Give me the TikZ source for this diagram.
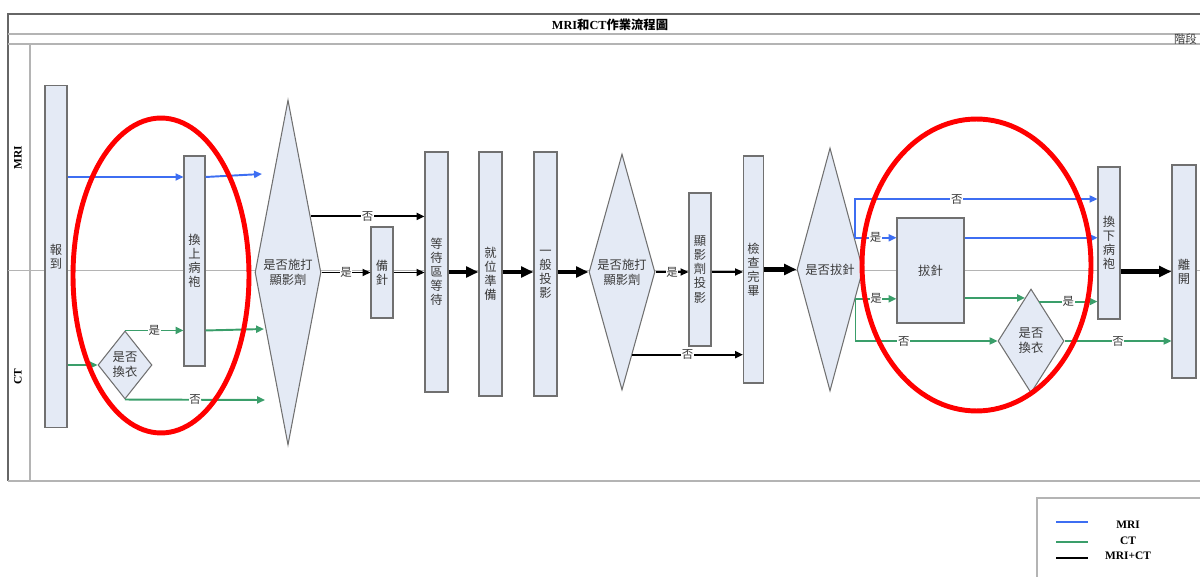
\documentclass[tikz,border=0pt]{standalone}
\usepackage{fontspec}
\setmainfont{Liberation Serif}
\newfontfamily\cjk{Noto Sans CJK TC}
\usetikzlibrary{shapes.geometric,arrows.meta}

\definecolor{mriblue}{HTML}{3D6EF2}
\definecolor{ctgreen}{HTML}{3A9E6A}
\definecolor{boxfill}{HTML}{E4EAF5}
\definecolor{boxline}{HTML}{707070}
\definecolor{textgray}{HTML}{3A3A3A}
\definecolor{lanegray}{HTML}{B4B4B4}
\definecolor{framegray}{HTML}{666666}

\begin{document}
\begin{tikzpicture}[x=0.02cm,y=-0.02cm,
    box/.style 2 args={draw=boxline, fill=boxfill, line width=0.6pt, inner sep=0pt,
      minimum width=#1, minimum height=#2, text=textgray, align=center,
      font=\cjk\fontsize{7}{8}\selectfont},
    ask/.style 2 args={diamond, draw=boxline, fill=boxfill, line width=0.6pt, inner sep=0pt,
      minimum width=#1, minimum height=#2},
    qtext/.style={text=textgray, align=center, inner sep=0pt, font=\cjk\fontsize{7}{8.5}\selectfont},
    lbl/.style={fill=white, inner sep=0.4pt, text=textgray, font=\cjk\fontsize{6.5}{7}\selectfont},
    mri/.style={draw=mriblue, line width=1.1pt, -{Triangle[length=4.5pt,width=4pt]}},
    ct/.style={draw=ctgreen, line width=1.1pt, -{Triangle[length=4.5pt,width=4pt]}},
    flow/.style={draw=black, line width=1.1pt, -{Triangle[length=4.5pt,width=4pt]}},
    mainflow/.style={draw=black, line width=2.6pt, -{Triangle[length=7pt,width=6pt]}}]
  \useasboundingbox (0,0) rectangle (1200,577);
  \clip (0,0) rectangle (1200,577);

  % pool frame and lanes
  \draw[framegray, line width=0.7pt] (1210,14) -- (8,14) -- (8,481);
  \draw[lanegray, line width=1.2pt] (8,34) -- (1210,34) (8,44) -- (1210,44);
  \draw[lanegray, line width=0.8pt] (8,481) -- (1210,481);
  \draw[lanegray, line width=1pt] (30,44) -- (30,481);
  \draw[lanegray, line width=0.5pt] (8,270) -- (1210,270);

  \node[font=\bfseries\fontsize{7}{8}\selectfont] (title) at (610,25) {MRI{\cjk 和}CT{\cjk 作業流程圖}};
  \node[anchor=east, inner sep=1pt, text=textgray, font=\cjk\fontsize{6.5}{7}\selectfont] (stage) at (1199,39.5) {階段};
  \node[rotate=90, font=\bfseries\fontsize{6.5}{7}\selectfont] (laneMRI) at (18,158) {MRI};
  \node[rotate=90, font=\bfseries\fontsize{6.5}{7}\selectfont] (laneCT) at (18,377) {CT};

  % steps
  \node[box={0.44cm}{6.86cm}] (rep) at (56,256.5) {報\\到};
  \node[box={0.42cm}{4.2cm}] (gown) at (194.5,261) {換\\上\\病\\袍};
  \node[ask={1.08cm}{1.36cm}, label={[qtext]center:{是否\\換衣}}] (chg1) at (125,365) {};
  \node[ask={1.32cm}{6.9cm}, label={[qtext]center:{是否施打\\顯影劑}}] (dye1) at (288,272.5) {};
  \node[box={0.44cm}{1.82cm}] (needle) at (382,272.5) {備\\針};
  \node[box={0.46cm}{4.8cm}] (wait) at (436.5,272) {等\\待\\區\\等\\待};
  \node[box={0.46cm}{4.88cm}] (ready) at (490.5,274) {就\\位\\準\\備};
  \node[box={0.46cm}{4.88cm}] (plain) at (545.5,274) {一\\般\\投\\影};
  \node[ask={1.32cm}{4.72cm}, label={[qtext]center:{是否施打\\顯影劑}}] (dye2) at (622,272) {};
  \node[box={0.44cm}{3.06cm}] (cscan) at (700,269.5) {顯\\影\\劑\\投\\影};
  \node[box={0.40cm}{4.54cm}] (done) at (753.5,269.5) {檢\\查\\完\\畢};
  \node[ask={1.32cm}{4.86cm}, label={[qtext]center:{是否拔針}}] (pullq) at (830,269.5) {};
  \node[box={1.34cm}{2.1cm}] (pull) at (930.5,270.5) {拔針};
  \node[ask={1.32cm}{2.08cm}, label={[qtext]center:{是否\\換衣}}] (chg2) at (1031,341) {};
  \node[box={0.44cm}{3.04cm}] (ungown) at (1109,243) {換\\下\\病\\袍};
  \node[box={0.48cm}{4.26cm}] (leave) at (1184,271.5) {離\\開};

  \coordinate (mriRow) at (0,177);
  \coordinate (mriEnd) at (262,174);
  \coordinate (ctYes) at (264,329);
  \coordinate (ctNo) at (265,400);
  \coordinate (mriSkip) at (0,199);

  % MRI
  \draw[mri] (rep.east |- mriRow) -- (gown.west |- mriRow);
  \draw[mri] (gown.east |- mriRow) -- (mriEnd);
  \draw[mri] (pullq.52) -- (pull.west |- pullq.52) node[lbl, midway] {是};
  \draw[mri] (pullq.52) |- (ungown.west |- mriSkip) node[lbl, pos=0.71] {否};
  \draw[mri] (pull.east |- pullq.52) -- (ungown.west |- pullq.52);

  % CT
  \draw[ct] (rep.east |- chg1.west) -- (chg1.west);
  \draw[ct] (chg1.north) -- (gown.west |- chg1.north) node[lbl, midway] {是};
  \draw[ct] (gown.east |- chg1.north) -- (ctYes);
  \draw[ct] (chg1.south) -- (ctNo) node[lbl, midway] {否};
  \draw[ct] (pullq.-49) -- (pull.west |- pullq.-49) node[lbl, midway] {是};
  \draw[ct] (pullq.-49) |- (chg2.west) node[lbl, pos=0.67] {否};
  \draw[ct] (pull.east |- chg2.98) -- (chg2.98);
  \draw[ct] (chg2.78) -- (ungown.west |- chg2.78) node[lbl, midway] {是};
  \draw[ct] (chg2.east) -- (leave.west |- chg2.east) node[lbl, midway] {否};

  % MRI+CT
  \draw[flow] (dye1.68) -- (wait.west |- dye1.68) node[lbl, midway] {否};
  \draw[flow] (dye1.east) -- (needle.west) node[lbl, midway] {是};
  \draw[flow] (needle.east) -- (wait.west |- needle.east);
  \draw[mainflow] (wait.east |- dye2.west) -- (ready.west |- dye2.west);
  \draw[mainflow] (ready.east |- dye2.west) -- (plain.west |- dye2.west);
  \draw[mainflow] (plain.east |- dye2.west) -- (dye2.west);
  \draw[flow] (dye2.east) -- (cscan.west |- dye2.east) node[lbl, midway] {是};
  \draw[flow] (cscan.east |- dye2.east) -- (done.west |- dye2.east);
  \draw[flow] (dye2.-83) -- (done.west |- dye2.-83) node[lbl, midway] {否};
  \draw[mainflow] (done.east |- pullq.west) -- (pullq.west);
  \draw[mainflow] (ungown.east |- leave.west) -- (leave.west);

  % marked areas
  \draw[red, line width=2.8pt] (161,275.5) ellipse [x radius=1.76cm, y radius=3.15cm];
  \draw[red, line width=2.8pt] (976.5,265) ellipse [x radius=2.29cm, y radius=2.92cm];

  % legend
  \draw[lanegray, line width=0.8pt] (1037,590) -- (1037,498) -- (1210,498);
  \draw[mriblue, line width=1.1pt] (1056,522) -- (1088,522);
  \draw[ctgreen, line width=1.1pt] (1056,542) -- (1088,542);
  \draw[black, line width=1.1pt] (1056,558) -- (1088,558);
  \node[font=\bfseries\fontsize{6.5}{7}\selectfont] (keyMRI) at (1128,525) {MRI};
  \node[font=\bfseries\fontsize{6.5}{7}\selectfont] (keyCT) at (1128,541) {CT};
  \node[font=\bfseries\fontsize{6.5}{7}\selectfont] (keyBoth) at (1128,556) {MRI+CT};
\end{tikzpicture}
\end{document}
